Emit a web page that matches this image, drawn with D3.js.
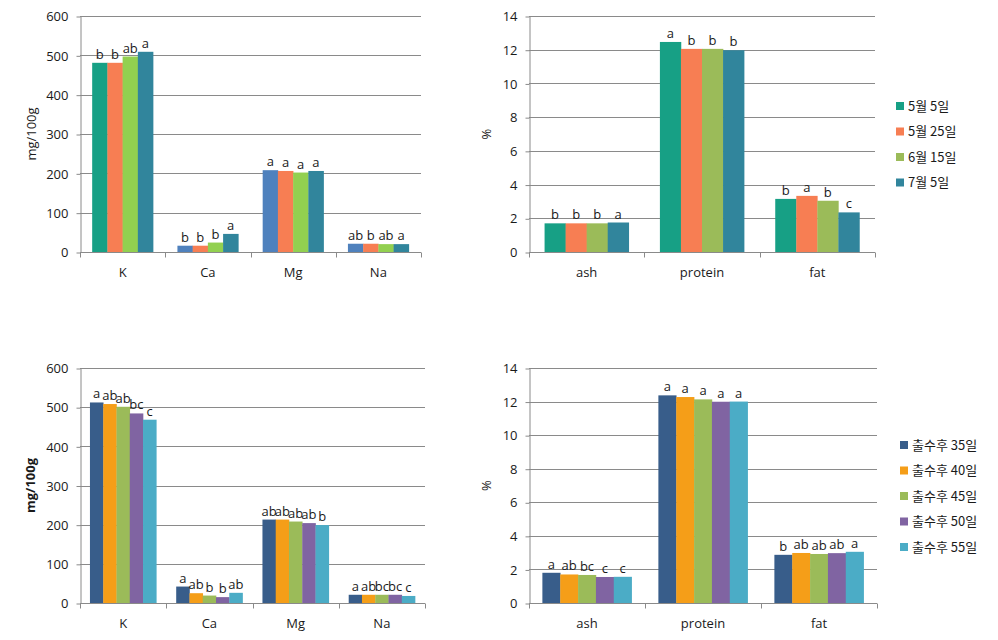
<!DOCTYPE html>
<html>
<head>
<meta charset="utf-8">
<script src="https://cdn.jsdelivr.net/npm/d3@7"></script>
<style>
  html, body { margin: 0; padding: 0; background: #ffffff; }
  svg { display: block; }
  text { font-family: "Open Sans", "Noto Sans CJK KR", sans-serif; fill: #1a1a1a; }
  .legend text { font-family: "Noto Sans CJK KR", sans-serif; }
</style>
</head>
<body>
<script>
// ---------- DATA ----------
const mineralCategories = ["K", "Ca", "Mg", "Na"];
const proximateCategories = ["ash", "protein", "fat"];
const mineralTicks = [0, 100, 200, 300, 400, 500, 600];
const percentTicks = [0, 2, 4, 6, 8, 10, 12, 14];

const dateSeries = ["5월 5일", "5월 25일", "6월 15일", "7월 5일"];
const heading = ["출수후 35일", "출수후 40일", "출수후 45일", "출수후 50일", "출수후 55일"];

// top-left: minerals by harvest date (rows = series, cols = categories)
const tlValues = [
  [481, 16, 208, 21],
  [481, 16, 206, 21],
  [497, 24, 202, 20],
  [509, 46, 206, 20]
];
const tlLetters = [
  ["b", "b", "a", "ab"],
  ["b", "b", "a", "b"],
  ["ab", "b", "a", "ab"],
  ["a", "a", "a", "a"]
];

// top-right: proximate by harvest date
const trValues = [
  [1.70, 12.46, 3.15],
  [1.70, 12.05, 3.33],
  [1.70, 12.05, 3.04],
  [1.75, 11.97, 2.35]
];
const trLetters = [
  ["b", "a", "b"],
  ["b", "b", "a"],
  ["b", "b", "b"],
  ["a", "b", "c"]
];

// bottom-left: minerals by days after heading
const blValues = [
  [512, 42, 213, 21],
  [508, 25, 213, 21],
  [501, 19, 208, 21],
  [484, 15, 204, 21],
  [468, 26, 199, 18]
];
const blLetters = [
  ["a", "a", "ab", "a"],
  ["ab", "ab", "ab", "ab"],
  ["ab", "b", "ab", "bc"],
  ["bc", "b", "ab", "bc"],
  ["c", "ab", "b", "c"]
];

// bottom-right: proximate by days after heading
const brValues = [
  [1.80, 12.37, 2.87],
  [1.70, 12.27, 2.98],
  [1.67, 12.13, 2.92],
  [1.55, 11.99, 2.97],
  [1.56, 12.00, 3.05]
];
const brLetters = [
  ["a", "a", "b"],
  ["ab", "a", "ab"],
  ["bc", "a", "ab"],
  ["c", "a", "ab"],
  ["c", "a", "a"]
];

// ---------- STYLES ----------
const dateColorsTL = ["#4F81BD", "#F77E53", "#92D050", "#31859C"];
const dateColorsTR = ["#17A085", "#F77E53", "#9BBB59", "#31859C"];
const tealFirst = "#17A085";
const headingColors = ["#385D8A", "#F59E18", "#9BBB59", "#8064A2", "#4BACC6"];

const svg = d3.select("body").append("svg")
  .attr("width", 998).attr("height", 640);

function drawChart(cfg) {
  const g = svg.append("g");
  const x = d3.scaleBand().domain(cfg.categories).range([cfg.left, cfg.right]).padding(0);
  const xs = d3.scaleBand().domain(d3.range(cfg.values.length))
    .range([0, x.bandwidth()]).paddingInner(0).paddingOuter(cfg.outer);
  const y = d3.scaleLinear().domain([cfg.ticks[0], cfg.ticks[cfg.ticks.length - 1]])
    .range([cfg.bottom, cfg.top]);

  // gridlines
  g.append("g").selectAll("line").data(cfg.ticks.slice(1)).join("line")
    .attr("x1", cfg.left).attr("x2", cfg.right)
    .attr("y1", d => Math.round(y(d)) + 0.5).attr("y2", d => Math.round(y(d)) + 0.5)
    .attr("stroke", "#8a8a8a").attr("stroke-width", 1);

  // y axis
  const ya = d3.axisLeft(y).tickValues(cfg.ticks).tickSizeInner(4).tickSizeOuter(0).tickPadding(8);
  const yg = g.append("g").attr("transform", `translate(${cfg.left + 0.5},0.5)`).call(ya);
  yg.select(".domain").attr("stroke", "#8a8a8a");
  yg.selectAll(".tick line").attr("stroke", "#8a8a8a");
  yg.selectAll(".tick text").attr("font-size", 13).attr("fill", "#1a1a1a")
    .attr("font-family", "Open Sans, sans-serif");

  // bars
  cfg.values.forEach((row, si) => {
    g.append("g").selectAll("rect").data(row).join("rect")
      .attr("x", (d, ci) => x(cfg.categories[ci]) + xs(si))
      .attr("width", xs.bandwidth() + 0.3)
      .attr("y", d => y(d))
      .attr("height", d => y(0) - y(d))
      .attr("fill", (d, ci) => cfg.color(si, ci));
    g.append("g").selectAll("text").data(row).join("text")
      .attr("x", (d, ci) => x(cfg.categories[ci]) + xs(si) + xs.bandwidth() / 2)
      .attr("y", d => y(d) - 4)
      .attr("text-anchor", "middle")
      .attr("font-size", 13)
      .text((d, ci) => cfg.letters[si][ci]);
  });

  // x axis
  const y0 = Math.round(y(0)) + 0.5;
  g.append("line").attr("x1", cfg.left).attr("x2", cfg.right)
    .attr("y1", y0).attr("y2", y0).attr("stroke", "#8a8a8a");
  const bounds = cfg.categories.map(c => x(c)).concat([x.range()[1]]);
  g.append("g").selectAll("line").data(bounds).join("line")
    .attr("x1", d => Math.round(d) + 0.5).attr("x2", d => Math.round(d) + 0.5)
    .attr("y1", y0).attr("y2", y0 + 5).attr("stroke", "#8a8a8a");
  g.append("g").selectAll("text").data(cfg.categories).join("text")
    .attr("x", c => x(c) + x.bandwidth() / 2)
    .attr("y", y0 + 24)
    .attr("text-anchor", "middle")
    .attr("font-size", 13)
    .text(c => c);

  // y title
  g.append("text")
    .attr("transform", `translate(${cfg.titleX},${(cfg.top + cfg.bottom) / 2}) rotate(-90)`)
    .attr("text-anchor", "middle")
    .attr("font-size", 13)
    .attr("font-weight", cfg.titleBold ? "bold" : "normal")
    .text(cfg.title);
}

function drawLegend(items, colors, lx, ly, step, sq, tx) {
  const lg = svg.append("g").attr("class", "legend");
  items.forEach((t, i) => {
    const cy = ly + i * step;
    lg.append("rect").attr("x", lx).attr("y", cy - sq / 2).attr("width", sq).attr("height", sq)
      .attr("fill", colors[i]);
    lg.append("text").attr("x", tx).attr("y", cy + 4.5).attr("font-size", 13).text(t);
  });
}

drawChart({
  categories: mineralCategories, values: tlValues, letters: tlLetters, ticks: mineralTicks,
  left: 80, right: 421, top: 16, bottom: 252, outer: 0.8,
  color: (si, ci) => (si === 0 && ci === 0) ? tealFirst : dateColorsTL[si],
  title: "mg/100g", titleX: 36, titleBold: false
});
drawChart({
  categories: proximateCategories, values: trValues, letters: trLetters, ticks: percentTicks,
  left: 529, right: 875, top: 16, bottom: 252, outer: 0.74,
  color: (si) => dateColorsTR[si],
  title: "%", titleX: 491, titleBold: false
});
drawChart({
  categories: mineralCategories, values: blValues, letters: blLetters, ticks: mineralTicks,
  left: 80, right: 425, top: 368, bottom: 603, outer: 0.75,
  color: (si) => headingColors[si],
  title: "mg/100g", titleX: 35, titleBold: true
});
drawChart({
  categories: proximateCategories, values: brValues, letters: brLetters, ticks: percentTicks,
  left: 529, right: 877, top: 368, bottom: 603, outer: 0.75,
  color: (si) => headingColors[si],
  title: "%", titleX: 491, titleBold: false
});

drawLegend(dateSeries, dateColorsTR, 896, 106, 25.5, 8, 908);
drawLegend(heading, headingColors, 900, 445, 25.5, 8, 912);
</script>
</body>
</html>
